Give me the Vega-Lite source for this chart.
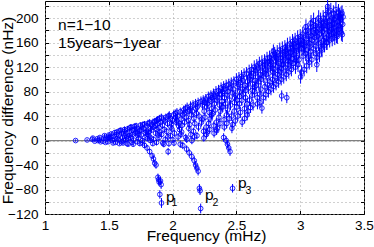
{
 "$schema": "https://vega.github.io/schema/vega-lite/v6.json",
 "width": 319, "height": 213,
 "autosize": {"type": "none"},
 "padding": {"left": 45, "top": 1, "right": 10, "bottom": 33},
 "background": "white",
 "config": {
  "font": "Liberation Sans",
  "view": {"stroke": "#000", "strokeWidth": 1},
  "axis": {"labelFont": "Liberation Sans", "titleFont": "Liberation Sans", "labelColor": "#000", "titleColor": "#000", "labelFontSize": 13.5, "titleFontSize": 15.5, "titleFontWeight": "normal", "domain": false, "tickColor": "#000", "tickSize": -3.5, "tickWidth": 1, "gridColor": "#a0a0a0", "gridDash": [1, 3], "gridOpacity": 1, "gridWidth": 1, "labelFlush": false, "labelOverlap": false}
 },
 "datasets": {
  "pts": [
{"f":1.24,"d":0,"e":2},{"f":1.33,"d":1,"e":2},{"f":1.37,"d":2,"e":2},{"f":1.375,"d":4,"e":3},{"f":1.39,"d":-1,"e":2},{"f":1.41,"d":3,"e":3},{"f":1.414,"d":0,"e":2},{"f":1.43,"d":5,"e":3},{"f":1.436,"d":-2,"e":2},{"f":1.425,"d":1,"e":3},
{"f":1.46,"d":4,"e":3},{"f":1.466,"d":8,"e":3},{"f":1.455,"d":-1,"e":2},{"f":1.48,"d":2,"e":3},{"f":1.486,"d":6,"e":3},{"f":1.474,"d":-3,"e":2},
{"f":1.500,"d":9,"e":3},{"f":1.507,"d":3,"e":3},{"f":1.494,"d":-2,"e":3},{"f":1.503,"d":5,"e":4},
{"f":1.520,"d":11,"e":3},{"f":1.527,"d":0,"e":3},{"f":1.514,"d":6,"e":4},
{"f":1.540,"d":7,"e":3},{"f":1.547,"d":13,"e":4},{"f":1.534,"d":-4,"e":3},{"f":1.543,"d":2,"e":3},
{"f":1.560,"d":10,"e":4},{"f":1.567,"d":4,"e":3},{"f":1.554,"d":-3,"e":3},{"f":1.563,"d":14,"e":4},
{"f":1.580,"d":8,"e":4},{"f":1.587,"d":16,"e":4},{"f":1.574,"d":1,"e":3},{"f":1.583,"d":-5,"e":3},
{"f":1.600,"d":12,"e":4},{"f":1.607,"d":5,"e":3},{"f":1.594,"d":17,"e":4},{"f":1.603,"d":-2,"e":3},
{"f":1.620,"d":15,"e":4},{"f":1.627,"d":9,"e":4},{"f":1.614,"d":0,"e":3},{"f":1.623,"d":18,"e":5},{"f":1.611,"d":-4,"e":3},
{"f":1.640,"d":6,"e":4},{"f":1.647,"d":19,"e":5},{"f":1.634,"d":12,"e":4},{"f":1.643,"d":-5,"e":3},{"f":1.631,"d":2,"e":4},
{"f":1.660,"d":14,"e":4},{"f":1.667,"d":21,"e":5},{"f":1.654,"d":3,"e":4},{"f":1.663,"d":8,"e":4},{"f":1.651,"d":-6,"e":3},
{"f":1.680,"d":17,"e":5},{"f":1.687,"d":10,"e":4},{"f":1.674,"d":22,"e":5},{"f":1.683,"d":-3,"e":4},{"f":1.671,"d":5,"e":4},
{"f":1.700,"d":23,"e":5},{"f":1.707,"d":12,"e":4},{"f":1.694,"d":1,"e":4},{"f":1.703,"d":18,"e":5},{"f":1.691,"d":-6,"e":4},
{"f":1.720,"d":20,"e":5},{"f":1.727,"d":8,"e":4},{"f":1.714,"d":24,"e":5},{"f":1.723,"d":-2,"e":4},{"f":1.711,"d":14,"e":5},
{"f":1.740,"d":16,"e":5},{"f":1.747,"d":25,"e":5},{"f":1.734,"d":4,"e":4},{"f":1.743,"d":-5,"e":4},{"f":1.731,"d":11,"e":5},
{"f":1.760,"d":22,"e":5},{"f":1.767,"d":26,"e":5},{"f":1.754,"d":9,"e":4},{"f":1.763,"d":0,"e":4},{"f":1.751,"d":17,"e":5},{"f":1.765,"d":-4,"e":4},
{"f":1.780,"d":27,"e":5},{"f":1.787,"d":13,"e":5},{"f":1.774,"d":19,"e":5},{"f":1.783,"d":5,"e":4},{"f":1.780,"d":-8,"e":4},
{"f":1.800,"d":24,"e":5},{"f":1.807,"d":28,"e":6},{"f":1.794,"d":15,"e":5},{"f":1.803,"d":3,"e":4},{"f":1.800,"d":-12,"e":5},{"f":1.805,"d":10,"e":5},
{"f":1.820,"d":29,"e":6},{"f":1.827,"d":20,"e":5},{"f":1.814,"d":8,"e":5},{"f":1.820,"d":-18,"e":5},{"f":1.811,"d":13,"e":5},{"f":1.825,"d":0,"e":4},
{"f":1.840,"d":26,"e":6},{"f":1.847,"d":30,"e":6},{"f":1.834,"d":17,"e":5},{"f":1.840,"d":-25,"e":5},{"f":1.831,"d":4,"e":5},{"f":1.845,"d":-5,"e":4},
{"f":1.850,"d":-30,"e":6},{"f":1.853,"d":22,"e":5},
{"f":1.860,"d":31,"e":6},{"f":1.867,"d":12,"e":5},{"f":1.860,"d":-37,"e":6},{"f":1.863,"d":25,"e":6},{"f":1.851,"d":2,"e":5},
{"f":1.870,"d":-40,"e":6},{"f":1.877,"d":18,"e":5},{"f":1.874,"d":33,"e":6},
{"f":1.880,"d":27,"e":6},{"f":1.887,"d":9,"e":5},{"f":1.874,"d":-3,"e":5},{"f":1.883,"d":34,"e":6},
{"f":1.885,"d":-60,"e":6},{"f":1.89,"d":-64,"e":7},{"f":1.893,"d":21,"e":6},{"f":1.896,"d":36,"e":6},{"f":1.895,"d":-68,"e":6},
{"f":1.90,"d":-88,"e":7},{"f":1.900,"d":14,"e":5},{"f":1.907,"d":30,"e":6},{"f":1.894,"d":5,"e":5},
{"f":1.905,"d":-66,"e":7},{"f":1.91,"d":-72,"e":7},{"f":1.912,"d":38,"e":6},{"f":1.913,"d":-102,"e":8},
{"f":1.920,"d":25,"e":6},{"f":1.927,"d":35,"e":6},{"f":1.914,"d":10,"e":5},{"f":1.923,"d":-4,"e":5},
{"f":1.940,"d":32,"e":6},{"f":1.947,"d":38,"e":6},{"f":1.934,"d":18,"e":5},{"f":1.943,"d":2,"e":5},{"f":1.931,"d":-6,"e":5},
{"f":1.960,"d":28,"e":6},{"f":1.967,"d":40,"e":6},{"f":1.954,"d":15,"e":6},{"f":1.965,"d":-18,"e":6},{"f":1.963,"d":6,"e":5},
{"f":1.980,"d":36,"e":6},{"f":1.987,"d":22,"e":6},{"f":1.974,"d":41,"e":7},{"f":1.983,"d":8,"e":5},{"f":1.971,"d":-5,"e":5},
{"f":2.000,"d":33,"e":6},{"f":2.007,"d":42,"e":7},{"f":1.994,"d":19,"e":6},{"f":2.003,"d":1,"e":5},{"f":1.991,"d":27,"e":6},
{"f":2.020,"d":44,"e":7},{"f":2.027,"d":30,"e":6},{"f":2.014,"d":12,"e":6},{"f":2.023,"d":38,"e":7},{"f":2.011,"d":-4,"e":5},
{"f":2.040,"d":40,"e":7},{"f":2.047,"d":24,"e":6},{"f":2.034,"d":46,"e":7},{"f":2.043,"d":6,"e":6},{"f":2.031,"d":33,"e":7},
{"f":2.060,"d":47,"e":7},{"f":2.067,"d":35,"e":7},{"f":2.054,"d":18,"e":6},{"f":2.060,"d":-6,"e":6},{"f":2.051,"d":28,"e":6},{"f":2.065,"d":10,"e":6},
{"f":2.080,"d":42,"e":7},{"f":2.087,"d":50,"e":7},{"f":2.074,"d":25,"e":6},{"f":2.080,"d":-8,"e":6},{"f":2.071,"d":14,"e":6},
{"f":2.100,"d":52,"e":7},{"f":2.107,"d":38,"e":7},{"f":2.094,"d":30,"e":7},{"f":2.103,"d":5,"e":6},{"f":2.091,"d":45,"e":7},
{"f":2.11,"d":-14,"e":6},
{"f":2.120,"d":48,"e":7},{"f":2.127,"d":20,"e":6},{"f":2.114,"d":54,"e":8},{"f":2.123,"d":33,"e":7},{"f":2.111,"d":2,"e":6},
{"f":2.13,"d":-20,"e":6},
{"f":2.140,"d":56,"e":8},{"f":2.147,"d":42,"e":7},{"f":2.134,"d":26,"e":7},{"f":2.143,"d":10,"e":6},{"f":2.131,"d":50,"e":7},
{"f":2.15,"d":-26,"e":7},
{"f":2.160,"d":58,"e":8},{"f":2.167,"d":36,"e":7},{"f":2.154,"d":48,"e":7},{"f":2.163,"d":15,"e":6},{"f":2.151,"d":0,"e":6},
{"f":2.17,"d":-33,"e":7},
{"f":2.180,"d":60,"e":8},{"f":2.187,"d":44,"e":7},{"f":2.180,"d":-40,"e":7},{"f":2.174,"d":28,"e":7},{"f":2.183,"d":52,"e":8},{"f":2.171,"d":6,"e":6},
{"f":2.19,"d":-45,"e":7},
{"f":2.200,"d":62,"e":8},{"f":2.200,"d":-50,"e":7},{"f":2.207,"d":40,"e":7},{"f":2.194,"d":55,"e":8},{"f":2.203,"d":22,"e":7},{"f":2.191,"d":8,"e":6},
{"f":2.21,"d":-78,"e":7},{"f":2.215,"d":-82,"e":7},{"f":2.22,"d":-111,"e":8},{"f":2.222,"d":64,"e":8},{"f":2.226,"d":30,"e":7},
{"f":2.240,"d":66,"e":8},{"f":2.247,"d":48,"e":7},{"f":2.234,"d":58,"e":8},{"f":2.243,"d":15,"e":7},{"f":2.231,"d":35,"e":7},{"f":2.245,"d":4,"e":6},
{"f":2.260,"d":68,"e":8},{"f":2.267,"d":55,"e":8},{"f":2.254,"d":38,"e":7},{"f":2.263,"d":22,"e":7},{"f":2.251,"d":62,"e":8},{"f":2.265,"d":10,"e":7},
{"f":2.280,"d":72,"e":8},{"f":2.287,"d":46,"e":8},{"f":2.274,"d":60,"e":8},{"f":2.283,"d":28,"e":7},{"f":2.271,"d":14,"e":7},{"f":2.285,"d":66,"e":8},
{"f":2.300,"d":74,"e":8},{"f":2.307,"d":52,"e":8},{"f":2.294,"d":35,"e":7},{"f":2.303,"d":64,"e":8},{"f":2.291,"d":18,"e":7},{"f":2.305,"d":42,"e":8},
{"f":2.320,"d":76,"e":9},{"f":2.327,"d":60,"e":8},{"f":2.314,"d":44,"e":8},{"f":2.323,"d":24,"e":7},{"f":2.311,"d":70,"e":8},{"f":2.325,"d":12,"e":7},
{"f":2.340,"d":80,"e":9},{"f":2.347,"d":66,"e":8},{"f":2.334,"d":50,"e":8},{"f":2.343,"d":30,"e":7},{"f":2.331,"d":72,"e":9},{"f":2.345,"d":16,"e":7},
{"f":2.360,"d":82,"e":9},{"f":2.367,"d":58,"e":8},{"f":2.354,"d":70,"e":9},{"f":2.363,"d":38,"e":8},{"f":2.351,"d":20,"e":7},{"f":2.365,"d":76,"e":9},
{"f":2.380,"d":86,"e":9},{"f":2.387,"d":64,"e":8},{"f":2.374,"d":48,"e":8},{"f":2.383,"d":75,"e":9},{"f":2.371,"d":28,"e":8},{"f":2.385,"d":55,"e":8},
{"f":2.40,"d":5,"e":7},{"f":2.400,"d":88,"e":9},{"f":2.407,"d":70,"e":9},{"f":2.394,"d":55,"e":8},{"f":2.403,"d":34,"e":8},{"f":2.391,"d":80,"e":9},{"f":2.405,"d":22,"e":7},
{"f":2.42,"d":0,"e":7},{"f":2.420,"d":90,"e":9},{"f":2.427,"d":74,"e":9},{"f":2.414,"d":60,"e":8},{"f":2.423,"d":42,"e":8},{"f":2.411,"d":84,"e":9},{"f":2.425,"d":28,"e":8},
{"f":2.43,"d":-6,"e":7},
{"f":2.44,"d":-12,"e":7},{"f":2.440,"d":92,"e":9},{"f":2.447,"d":66,"e":9},{"f":2.434,"d":80,"e":9},{"f":2.443,"d":36,"e":8},{"f":2.431,"d":50,"e":8},
{"f":2.45,"d":-18,"e":7},
{"f":2.460,"d":94,"e":9},{"f":2.467,"d":78,"e":9},{"f":2.454,"d":58,"e":8},{"f":2.463,"d":40,"e":8},{"f":2.451,"d":86,"e":9},{"f":2.465,"d":20,"e":8},
{"f":2.47,"d":-78,"e":7},
{"f":2.480,"d":96,"e":9},{"f":2.487,"d":70,"e":9},{"f":2.474,"d":84,"e":9},{"f":2.483,"d":48,"e":8},{"f":2.471,"d":26,"e":8},{"f":2.485,"d":62,"e":9},
{"f":2.500,"d":100,"e":10},{"f":2.507,"d":88,"e":9},{"f":2.494,"d":74,"e":9},{"f":2.503,"d":55,"e":9},{"f":2.491,"d":32,"e":8},{"f":2.505,"d":66,"e":9},
{"f":2.520,"d":102,"e":10},{"f":2.527,"d":80,"e":9},{"f":2.514,"d":92,"e":10},{"f":2.523,"d":60,"e":9},{"f":2.511,"d":40,"e":8},{"f":2.525,"d":72,"e":9},
{"f":2.540,"d":105,"e":10},{"f":2.547,"d":84,"e":9},{"f":2.534,"d":95,"e":10},{"f":2.543,"d":66,"e":9},{"f":2.531,"d":46,"e":9},{"f":2.545,"d":30,"e":8},
{"f":2.560,"d":108,"e":10},{"f":2.567,"d":90,"e":10},{"f":2.554,"d":76,"e":9},{"f":2.563,"d":52,"e":9},{"f":2.551,"d":98,"e":10},{"f":2.565,"d":36,"e":8},
{"f":2.580,"d":110,"e":10},{"f":2.587,"d":96,"e":10},{"f":2.574,"d":82,"e":9},{"f":2.583,"d":60,"e":9},{"f":2.571,"d":70,"e":9},{"f":2.585,"d":42,"e":9},
{"f":2.600,"d":114,"e":10},{"f":2.607,"d":100,"e":10},{"f":2.594,"d":86,"e":10},{"f":2.603,"d":66,"e":9},{"f":2.591,"d":48,"e":9},{"f":2.605,"d":104,"e":10},
{"f":2.620,"d":116,"e":10},{"f":2.627,"d":92,"e":10},{"f":2.614,"d":106,"e":10},{"f":2.623,"d":74,"e":9},{"f":2.611,"d":54,"e":9},{"f":2.625,"d":82,"e":10},
{"f":2.640,"d":120,"e":11},{"f":2.647,"d":98,"e":10},{"f":2.634,"d":110,"e":10},{"f":2.643,"d":80,"e":10},{"f":2.631,"d":58,"e":9},{"f":2.645,"d":88,"e":10},
{"f":2.660,"d":122,"e":11},{"f":2.667,"d":104,"e":10},{"f":2.654,"d":90,"e":10},{"f":2.663,"d":70,"e":9},{"f":2.651,"d":114,"e":10},{"f":2.665,"d":60,"e":9},
{"f":2.680,"d":126,"e":11},{"f":2.687,"d":108,"e":10},{"f":2.674,"d":96,"e":10},{"f":2.683,"d":76,"e":10},{"f":2.671,"d":118,"e":11},{"f":2.685,"d":62,"e":9},
{"f":2.700,"d":128,"e":11},{"f":2.707,"d":112,"e":10},{"f":2.694,"d":100,"e":10},{"f":2.700,"d":53,"e":9},{"f":2.691,"d":84,"e":10},{"f":2.705,"d":120,"e":11},
{"f":2.720,"d":130,"e":11},{"f":2.727,"d":116,"e":11},{"f":2.714,"d":104,"e":10},{"f":2.723,"d":88,"e":10},{"f":2.711,"d":70,"e":10},{"f":2.725,"d":124,"e":11},
{"f":2.740,"d":134,"e":11},{"f":2.747,"d":120,"e":11},{"f":2.734,"d":108,"e":10},{"f":2.743,"d":92,"e":10},{"f":2.731,"d":75,"e":10},{"f":2.745,"d":128,"e":11},
{"f":2.760,"d":136,"e":11},{"f":2.767,"d":124,"e":11},{"f":2.754,"d":110,"e":10},{"f":2.763,"d":96,"e":10},{"f":2.751,"d":80,"e":10},{"f":2.765,"d":130,"e":11},
{"f":2.780,"d":140,"e":11},{"f":2.787,"d":118,"e":11},{"f":2.774,"d":128,"e":11},{"f":2.783,"d":100,"e":10},{"f":2.771,"d":84,"e":10},{"f":2.785,"d":112,"e":11},
{"f":2.79,"d":146,"e":11},
{"f":2.800,"d":142,"e":11},{"f":2.807,"d":130,"e":11},{"f":2.794,"d":116,"e":11},{"f":2.803,"d":104,"e":10},{"f":2.791,"d":88,"e":10},{"f":2.805,"d":136,"e":11},
{"f":2.820,"d":144,"e":12},{"f":2.827,"d":122,"e":11},{"f":2.814,"d":134,"e":11},{"f":2.823,"d":108,"e":11},{"f":2.811,"d":92,"e":10},{"f":2.825,"d":114,"e":11},
{"f":2.840,"d":148,"e":12},{"f":2.847,"d":136,"e":11},{"f":2.834,"d":126,"e":11},{"f":2.843,"d":112,"e":11},{"f":2.831,"d":96,"e":10},{"f":2.845,"d":140,"e":12},
{"f":2.855,"d":73,"e":9},
{"f":2.860,"d":150,"e":12},{"f":2.867,"d":130,"e":11},{"f":2.854,"d":118,"e":11},{"f":2.863,"d":140,"e":12},{"f":2.851,"d":100,"e":10},{"f":2.865,"d":124,"e":11},
{"f":2.880,"d":152,"e":12},{"f":2.887,"d":142,"e":12},{"f":2.874,"d":132,"e":11},{"f":2.883,"d":120,"e":11},{"f":2.871,"d":104,"e":11},{"f":2.885,"d":146,"e":12},
{"f":2.895,"d":70,"e":9},
{"f":2.900,"d":156,"e":12},{"f":2.907,"d":136,"e":12},{"f":2.894,"d":146,"e":12},{"f":2.903,"d":124,"e":11},{"f":2.891,"d":108,"e":11},{"f":2.905,"d":130,"e":11},
{"f":2.920,"d":158,"e":12},{"f":2.927,"d":150,"e":12},{"f":2.914,"d":138,"e":12},{"f":2.923,"d":128,"e":11},{"f":2.911,"d":112,"e":11},{"f":2.925,"d":144,"e":12},
{"f":2.940,"d":162,"e":12},{"f":2.947,"d":148,"e":12},{"f":2.934,"d":134,"e":12},{"f":2.943,"d":152,"e":12},{"f":2.931,"d":116,"e":11},{"f":2.945,"d":126,"e":11},
{"f":2.960,"d":164,"e":12},{"f":2.967,"d":154,"e":12},{"f":2.954,"d":140,"e":12},{"f":2.963,"d":120,"e":11},{"f":2.951,"d":158,"e":12},{"f":2.965,"d":130,"e":12},
{"f":2.980,"d":168,"e":12},{"f":2.987,"d":156,"e":12},{"f":2.974,"d":146,"e":12},{"f":2.983,"d":124,"e":12},{"f":2.971,"d":136,"e":12},{"f":2.985,"d":160,"e":12},
{"f":3.000,"d":170,"e":12},{"f":3.007,"d":158,"e":12},{"f":2.994,"d":148,"e":12},{"f":3.003,"d":104,"e":11},{"f":2.991,"d":132,"e":12},{"f":3.005,"d":164,"e":12},
{"f":3.020,"d":174,"e":12},{"f":3.027,"d":162,"e":12},{"f":3.014,"d":150,"e":12},{"f":3.023,"d":138,"e":12},{"f":3.011,"d":112,"e":11},{"f":3.025,"d":156,"e":12},
{"f":3.040,"d":178,"e":12},{"f":3.047,"d":166,"e":12},{"f":3.034,"d":154,"e":12},{"f":3.043,"d":142,"e":12},{"f":3.031,"d":116,"e":11},{"f":3.045,"d":186,"e":12},
{"f":3.060,"d":180,"e":12},{"f":3.067,"d":160,"e":12},{"f":3.054,"d":148,"e":12},{"f":3.063,"d":170,"e":12},{"f":3.051,"d":122,"e":12},{"f":3.065,"d":138,"e":12},
{"f":3.080,"d":184,"e":13},{"f":3.087,"d":172,"e":12},{"f":3.074,"d":158,"e":12},{"f":3.083,"d":146,"e":12},{"f":3.071,"d":128,"e":12},{"f":3.085,"d":192,"e":13},
{"f":3.100,"d":186,"e":13},{"f":3.107,"d":176,"e":12},{"f":3.094,"d":164,"e":12},{"f":3.103,"d":150,"e":12},{"f":3.091,"d":132,"e":12},{"f":3.105,"d":196,"e":13},
{"f":3.120,"d":188,"e":13},{"f":3.127,"d":178,"e":12},{"f":3.114,"d":168,"e":12},{"f":3.123,"d":154,"e":12},{"f":3.130,"d":124,"e":12},{"f":3.125,"d":142,"e":12},
{"f":3.140,"d":192,"e":13},{"f":3.147,"d":182,"e":13},{"f":3.134,"d":170,"e":12},{"f":3.143,"d":158,"e":12},{"f":3.131,"d":136,"e":12},{"f":3.145,"d":200,"e":13},
{"f":3.160,"d":196,"e":13},{"f":3.167,"d":184,"e":13},{"f":3.154,"d":174,"e":12},{"f":3.163,"d":160,"e":12},{"f":3.151,"d":140,"e":12},{"f":3.165,"d":150,"e":12},
{"f":3.180,"d":200,"e":13},{"f":3.187,"d":188,"e":13},{"f":3.174,"d":178,"e":13},{"f":3.183,"d":164,"e":12},{"f":3.171,"d":148,"e":12},{"f":3.185,"d":192,"e":13},
{"f":3.200,"d":206,"e":13},{"f":3.207,"d":194,"e":13},{"f":3.194,"d":182,"e":13},{"f":3.203,"d":168,"e":12},{"f":3.191,"d":156,"e":12},{"f":3.205,"d":160,"e":12},
{"f":3.215,"d":219,"e":13},
{"f":3.220,"d":210,"e":13},{"f":3.227,"d":196,"e":13},{"f":3.214,"d":186,"e":13},{"f":3.223,"d":172,"e":12},{"f":3.211,"d":160,"e":12},{"f":3.225,"d":178,"e":13},
{"f":3.240,"d":212,"e":13},{"f":3.247,"d":200,"e":13},{"f":3.234,"d":188,"e":13},{"f":3.243,"d":174,"e":12},{"f":3.231,"d":164,"e":12},{"f":3.245,"d":182,"e":13},
{"f":3.260,"d":208,"e":13},{"f":3.267,"d":198,"e":13},{"f":3.254,"d":190,"e":13},{"f":3.263,"d":176,"e":13},{"f":3.251,"d":166,"e":12},{"f":3.265,"d":184,"e":13},
{"f":3.280,"d":214,"e":13},{"f":3.287,"d":202,"e":13},{"f":3.274,"d":192,"e":13},{"f":3.283,"d":180,"e":13},{"f":3.271,"d":168,"e":12},{"f":3.285,"d":172,"e":13},
{"f":3.300,"d":210,"e":13},{"f":3.307,"d":204,"e":13},{"f":3.294,"d":194,"e":13},{"f":3.303,"d":182,"e":13},{"f":3.291,"d":170,"e":12},{"f":3.305,"d":188,"e":13},
{"f":3.320,"d":206,"e":13},{"f":3.317,"d":198,"e":13},{"f":3.314,"d":186,"e":13},{"f":3.323,"d":176,"e":13},{"f":3.311,"d":200,"e":13},
{"f":3.330,"d":173,"e":12},{"f":3.328,"d":208,"e":13},{"f":3.336,"d":202,"e":13},{"f":3.333,"d":190,"e":13}
  ],
  "ann": [{"f":1.102,"d":181,"t":"n=1−10"},{"f":1.102,"d":151,"t":"15years−1year"}],
  "pl": [{"f":1.948,"d":-100,"t":"p"},{"f":2.254,"d":-97,"t":"p"},{"f":2.5125,"d":-78,"t":"p"}],
  "sub": [{"f":1.992,"d":-107,"t":"1"},{"f":2.313,"d":-107,"t":"2"},{"f":2.571,"d":-87,"t":"3"}]
 },
 "resolve": {"axis": {"x": "independent", "y": "independent"}},
 "layer": [
  {
   "data": {"values": [{}]},
   "mark": {"type": "rule", "color": "#808080", "strokeWidth": 1.2},
   "encoding": {
    "y": {"datum": 0, "type": "quantitative", "scale": {"domain": [-120, 228], "nice": false, "zero": false},
          "axis": {"orient": "right", "values": [-120,-100,-80,-60,-40,-20,0,20,40,60,80,100,120,140,160,180,200,220], "labels": false, "grid": false, "title": null}}
   }
  },
  {
   "data": {"name": "pts"},
   "mark": {"type": "errorbar", "color": "#0000ff", "thickness": 1},
   "encoding": {
    "x": {"field": "f", "type": "quantitative", "scale": {"domain": [1, 3.5], "nice": false, "zero": false},
          "axis": {"orient": "top", "values": [1, 1.5, 2, 2.5, 3, 3.5], "labels": false, "grid": false, "title": null}},
    "y": {"field": "d", "type": "quantitative", "scale": {"domain": [-120, 228], "nice": false, "zero": false}, "axis": null},
    "yError": {"field": "e"}
   }
  },
  {
   "data": {"name": "pts"},
   "mark": {"type": "point", "shape": "circle", "filled": false, "color": "#0000ff", "size": 22, "strokeWidth": 1, "opacity": 0.85},
   "encoding": {
    "x": {"field": "f", "type": "quantitative", "scale": {"domain": [1, 3.5], "nice": false, "zero": false},
          "axis": {"values": [1, 1.5, 2, 2.5, 3, 3.5], "format": "~g", "title": "Frequency (mHz)", "grid": true, "labelPadding": 8, "titleX": 161, "titleY": 26.7, "titleBaseline": "alphabetic", "titleAlign": "center"}},
    "y": {"field": "d", "type": "quantitative", "scale": {"domain": [-120, 228], "nice": false, "zero": false},
          "axis": {"values": [-120,-100,-80,-60,-40,-20,0,20,40,60,80,100,120,140,160,180,200,220], "labelExpr": "datum.value % 40 == 0 ? datum.label : ''", "title": "Frequency difference (nHz)", "grid": true, "labelPadding": 10.5, "titleX": -33, "titleY": 109, "titleAngle": -90, "titleBaseline": "alphabetic", "titleAlign": "center"}}
   }
  },
  {
   "data": {"name": "ann"},
   "mark": {"type": "text", "align": "left", "baseline": "alphabetic", "fontSize": 15.5, "font": "Liberation Sans", "color": "#000"},
   "encoding": {
    "x": {"field": "f", "type": "quantitative", "scale": {"domain": [1, 3.5], "nice": false, "zero": false}, "axis": null},
    "y": {"field": "d", "type": "quantitative", "scale": {"domain": [-120, 228], "nice": false, "zero": false}, "axis": null},
    "text": {"field": "t"}
   }
  },
  {
   "data": {"name": "pl"},
   "mark": {"type": "text", "align": "left", "baseline": "alphabetic", "fontSize": 15.5, "font": "Liberation Sans", "color": "#000"},
   "encoding": {
    "x": {"field": "f", "type": "quantitative", "scale": {"domain": [1, 3.5], "nice": false, "zero": false}, "axis": null},
    "y": {"field": "d", "type": "quantitative", "scale": {"domain": [-120, 228], "nice": false, "zero": false}, "axis": null},
    "text": {"field": "t"}
   }
  },
  {
   "data": {"name": "sub"},
   "mark": {"type": "text", "align": "left", "baseline": "alphabetic", "fontSize": 10.5, "font": "Liberation Sans", "color": "#000"},
   "encoding": {
    "x": {"field": "f", "type": "quantitative", "scale": {"domain": [1, 3.5], "nice": false, "zero": false}, "axis": null},
    "y": {"field": "d", "type": "quantitative", "scale": {"domain": [-120, 228], "nice": false, "zero": false}, "axis": null},
    "text": {"field": "t"}
   }
  }
 ]
}
